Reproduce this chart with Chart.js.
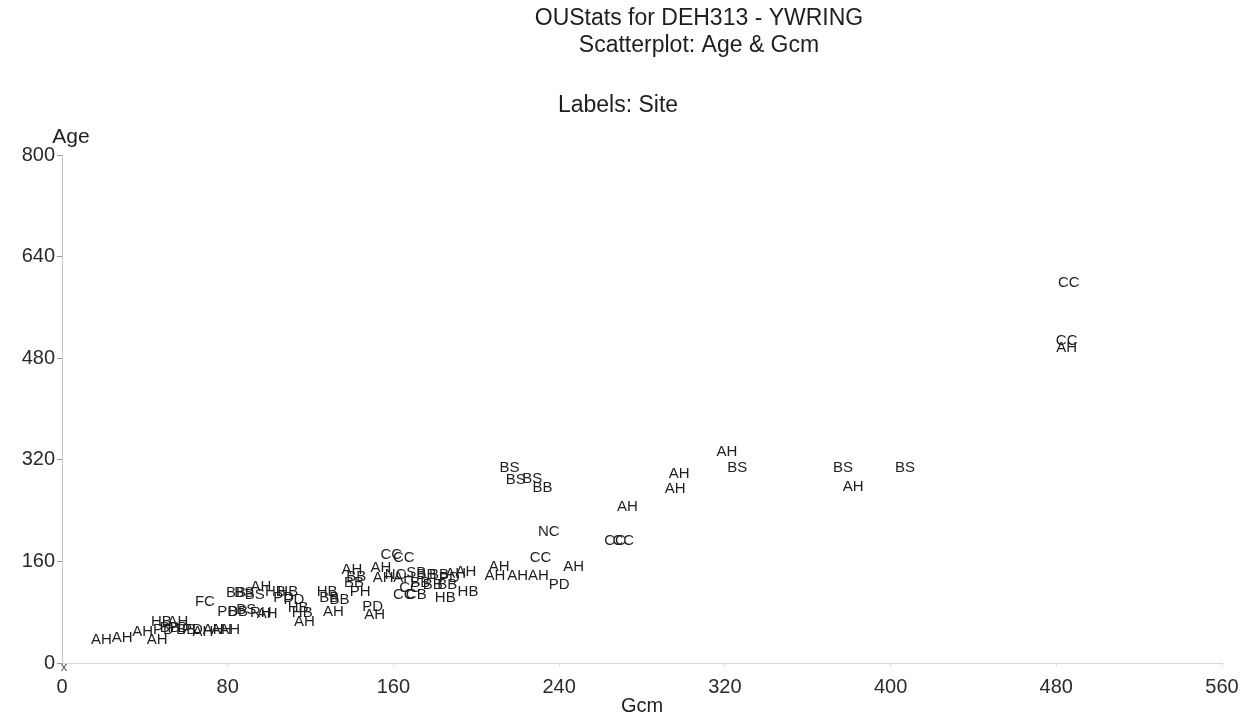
<!DOCTYPE html>
<html>
<head>
<meta charset="utf-8">
<title>OUStats for DEH313 - YWRING</title>
<script src="https://cdn.jsdelivr.net/npm/chart.js@4/dist/chart.umd.min.js"></script>
<style>
  body { margin: 0; background: #fff; }
  canvas { display: block; }
</style>
</head>
<body>
<canvas id="scatter" width="1254" height="719"></canvas>
<script>
// Site label, Gcm and Age for each tree
const sites = [
  'CC', 'CC', 'AH', 'AH', 'BS', 'BS', 'BS', 'AH', 'AH', 'AH',
  'AH', 'CC', 'CC', 'NC', 'CC', 'AH', 'PD', 'AH', 'AH', 'AH',
  'AH', 'AH', 'AH', 'BS', 'BS', 'BS', 'BB',
  'CC', 'CC', 'AH', 'BB', 'BB', 'PH', 'HB', 'BB', 'BB', 'AH',
  'PD', 'AH', 'AH', 'AH', 'NC', 'AH', 'SB', 'BB', 'BB', 'PD',
  'CC', 'CB', 'BB', 'BB', 'HB', 'HB', 'BB', 'CC',
  'FC', 'BB', 'BS', 'AH', 'BS', 'HB', 'HB', 'PD', 'PD', 'HB',
  'HB', 'AH', 'PD', 'BB', 'BS', 'RH', 'AH',
  'AH', 'AH', 'AH', 'AH', 'HB', 'AH', 'PD', 'BB', 'PD', 'BB',
  'PD', 'AH', 'AH', 'AH', 'AH'
];
const gcm = [
  486, 485, 485, 321, 326, 377, 407, 382, 298, 296,
  273, 267, 271, 235, 231, 247, 240, 230, 220, 209,
  211, 195, 190, 216, 219, 227, 232,
  159, 165, 140, 142, 141, 144, 128, 129, 134, 131,
  150, 151, 154, 155, 161, 165, 171, 176, 182, 187,
  165, 171, 179, 186, 185, 196, 173, 168,
  69, 84, 88, 96, 93, 103, 109, 107, 112, 114,
  116, 117, 80, 85, 89, 96, 99,
  19, 29, 39, 46, 48, 56, 49, 52, 56, 60,
  63, 68, 73, 77, 81
];
const age = [
  598, 508, 496, 332, 307, 307, 307, 277, 298, 274,
  246, 192, 192, 206, 165, 151, 123, 137, 137, 137,
  151, 143, 140, 307, 288, 290, 276,
  170, 165, 147, 135, 126, 112, 112, 102, 99, 80,
  88, 76, 150, 134, 139, 134, 142, 139, 139, 134,
  107, 107, 123, 123, 102, 112, 126, 118,
  96, 110, 110, 120, 107, 112, 112, 102, 99, 87,
  79, 65, 80, 80, 83, 79, 77,
  36, 39, 49, 36, 65, 65, 52, 55, 55, 52,
  52, 49, 52, 52, 52
];

const xTicks = [0, 80, 160, 240, 320, 400, 480, 560];
const yTicks = [0, 160, 320, 480, 640, 800];

const points = gcm.map((g, i) => ({ x: g, y: age[i] }));
const textFont = '"Liberation Sans", Arial, sans-serif';

// Draw each site code centred on its point
const siteLabels = {
  id: 'siteLabels',
  afterDatasetsDraw(chart) {
    const ctx = chart.ctx;
    const meta = chart.getDatasetMeta(0);
    ctx.save();
    ctx.font = '15px ' + textFont;
    ctx.fillStyle = '#1e1e1e';
    ctx.textAlign = 'center';
    ctx.textBaseline = 'middle';
    meta.data.forEach((el, i) => {
      ctx.fillText(sites[i], el.x, el.y);
    });
    ctx.restore();
  }
};

// Headings and the axis name for Age
const headings = {
  id: 'headings',
  afterDraw(chart) {
    const ctx = chart.ctx;
    ctx.save();
    ctx.fillStyle = '#1e1e1e';
    ctx.textAlign = 'center';
    ctx.textBaseline = 'middle';
    ctx.font = '23px ' + textFont;
    ctx.fillText('OUStats for DEH313 - YWRING', 699, 19);
    ctx.fillText('Scatterplot: Age & Gcm', 699, 46);
    ctx.fillText('Labels: Site', 618, 106);
    ctx.font = '21px ' + textFont;
    ctx.fillText('Age', 71, 137);
    ctx.font = '13px ' + textFont;
    ctx.fillStyle = '#555';
    ctx.fillText('x', 64, 667);
    ctx.restore();
  }
};

new Chart(document.getElementById('scatter'), {
  type: 'scatter',
  data: {
    datasets: [{
      label: 'Site',
      data: points,
      pointRadius: 0,
      pointHoverRadius: 0
    }]
  },
  options: {
    responsive: false,
    animation: false,
    layout: { padding: { top: 155, right: 32, left: 0, bottom: 0 } },
    plugins: {
      legend: { display: false },
      tooltip: { enabled: false }
    },
    scales: {
      x: {
        type: 'linear',
        min: 0,
        max: 560,
        afterBuildTicks: (scale) => { scale.ticks = xTicks.map(v => ({ value: v })); },
        afterFit: (scale) => { scale.height = 56; },
        border: { display: true, color: '#d4d4d4' },
        grid: { drawOnChartArea: false, drawTicks: true, tickLength: 4, color: '#e0e0e0' },
        ticks: { color: '#2a2a2a', padding: 8, maxRotation: 0, font: { family: textFont, size: 20 } },
        title: { display: true, text: 'Gcm', color: '#1e1e1e', padding: { top: 0, bottom: 1 }, font: { family: textFont, size: 20 } }
      },
      y: {
        type: 'linear',
        min: 0,
        max: 800,
        afterBuildTicks: (scale) => { scale.ticks = yTicks.map(v => ({ value: v })); },
        afterFit: (scale) => { scale.width = 62; },
        border: { display: true, color: '#c4c4c4' },
        grid: { drawOnChartArea: false, drawTicks: true, tickLength: 5, color: '#999' },
        ticks: { color: '#2a2a2a', padding: 2, font: { family: textFont, size: 20 } }
      }
    }
  },
  plugins: [siteLabels, headings]
});
</script>
</body>
</html>
